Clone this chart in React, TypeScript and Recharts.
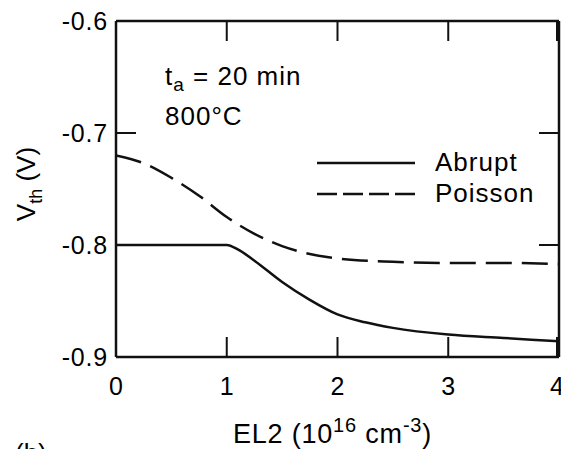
import React from 'react';
import { LineChart, Line, XAxis, YAxis, Legend } from 'recharts';

const FONT = '"Liberation Sans", Arial, Helvetica, sans-serif';

const X_TICKS = [0, 1, 2, 3, 4];
const Y_TICKS = [-0.9, -0.8, -0.7, -0.6];

const EL2_ABRUPT = [0, 0.5, 1.0, 1.1, 1.25, 1.5, 1.75, 2.0, 2.25, 2.5, 3.0, 3.5, 4.0];
const VTH_ABRUPT = [-0.8, -0.8, -0.8, -0.804, -0.814, -0.833, -0.849, -0.862, -0.869, -0.874, -0.88, -0.883, -0.886];

const EL2_POISSON = [0, 0.25, 0.5, 0.75, 1.0, 1.25, 1.5, 1.75, 2.0, 2.5, 3.0, 3.5, 4.0];
const VTH_POISSON = [-0.72, -0.727, -0.74, -0.756, -0.775, -0.79, -0.801, -0.808, -0.812, -0.815, -0.816, -0.816, -0.817];

const abruptData = EL2_ABRUPT.map((x, i) => ({ x, v: VTH_ABRUPT[i] }));
const poissonData = EL2_POISSON.map((x, i) => ({ x, v: VTH_POISSON[i] }));

const SERIES = [
  { name: 'Abrupt', data: abruptData, dash: undefined, legendDash: undefined },
  { name: 'Poisson', data: poissonData, dash: '26 10', legendDash: '20 6' },
];

const TICK_LEN = 20;
const STROKE = '#111';

const BottomTick = (props: any) => {
  const { x, y, payload } = props;
  return (
    <g>
      <line x1={x} y1={y} x2={x} y2={y - TICK_LEN} stroke={STROKE} strokeWidth={2} />
      <text x={x} y={y + 38} textAnchor="middle" fontFamily={FONT} fontSize={25} fill="#000">
        {payload.value}
      </text>
    </g>
  );
};

const TopTick = (props: any) => {
  const { x, y } = props;
  return <line x1={x} y1={y} x2={x} y2={y + TICK_LEN} stroke={STROKE} strokeWidth={2} />;
};

const LeftTick = (props: any) => {
  const { x, y, payload } = props;
  return (
    <g>
      <line x1={x} y1={y} x2={x + TICK_LEN} y2={y} stroke={STROKE} strokeWidth={2} />
      <text x={x - 8} y={y + 9} textAnchor="end" fontFamily={FONT} fontSize={25} letterSpacing={0.8} fill="#000">
        {Number(payload.value).toFixed(1)}
      </text>
    </g>
  );
};

const RightTick = (props: any) => {
  const { x, y } = props;
  return <line x1={x} y1={y} x2={x - TICK_LEN} y2={y} stroke={STROKE} strokeWidth={2} />;
};

const YLabel = (props: any) => {
  const vb = props.viewBox || { x: 0, y: 21, width: 116, height: 336 };
  const cx = vb.x + 35;
  const cy = vb.y + vb.height / 2 - 5;
  return (
    <text
      x={cx}
      y={cy}
      transform={`rotate(-90, ${cx}, ${cy})`}
      textAnchor="middle"
      fontFamily={FONT}
      fontSize={26}
      fill="#000"
    >
      V
      <tspan dy={7} fontSize={18}>th</tspan>
      <tspan dy={-7}> (V)</tspan>
    </text>
  );
};

const XLabel = (props: any) => {
  const vb = props.viewBox || { x: 116, y: 357, width: 443, height: 92 };
  const cx = vb.x + vb.width / 2 - 5;
  const by = vb.y + 86;
  return (
    <g>
      <text x={cx} y={by} textAnchor="middle" fontFamily={FONT} fontSize={27} letterSpacing={0.8} fill="#000">
        EL2 (10
        <tspan dy={-11} fontSize={20}>16</tspan>
        <tspan dy={11}> cm</tspan>
        <tspan dy={-11} fontSize={20}>-3</tspan>
        <tspan dy={11}>)</tspan>
      </text>
      <text x={15} y={vb.y + 105} fontFamily={FONT} fontSize={26} fill="#000">(b)</text>
    </g>
  );
};

const renderLegend = () => (
  <div style={{ fontFamily: FONT, fontSize: 26, color: '#000' }}>
    {SERIES.map((s) => (
      <div key={s.name} style={{ display: 'flex', alignItems: 'center', height: 31 }}>
        <svg width={98} height={6} style={{ display: 'block' }}>
          <line x1={0} y1={3} x2={98} y2={3} stroke={STROKE} strokeWidth={2.5} strokeDasharray={s.legendDash} />
        </svg>
        <span style={{ marginLeft: 20, letterSpacing: 1 }}>{s.name}</span>
      </div>
    ))}
  </div>
);

export default function App() {
  return (
    <div style={{ position: 'absolute', left: 0, top: 0, width: 561, height: 449, background: '#fff', overflow: 'hidden' }}>
      <LineChart width={561} height={449} margin={{ top: 20, right: 1, bottom: 0, left: 0 }}>
        <XAxis
          xAxisId="bottom"
          dataKey="x"
          type="number"
          domain={[0, 4]}
          ticks={X_TICKS}
          height={92}
          tickSize={0}
          tickMargin={0}
          tick={<BottomTick />}
          axisLine={{ stroke: STROKE, strokeWidth: 2.5 }}
          allowDataOverflow
          label={<XLabel />}
        />
        <XAxis
          xAxisId="top"
          orientation="top"
          dataKey="x"
          type="number"
          domain={[0, 4]}
          ticks={X_TICKS}
          height={1}
          tickSize={0}
          tickMargin={0}
          tick={<TopTick />}
          axisLine={{ stroke: STROKE, strokeWidth: 2.5 }}
          allowDataOverflow
        />
        <YAxis
          yAxisId="left"
          type="number"
          domain={[-0.9, -0.6]}
          ticks={Y_TICKS}
          width={116}
          tickSize={0}
          tickMargin={0}
          tick={<LeftTick />}
          axisLine={{ stroke: STROKE, strokeWidth: 2.5 }}
          allowDataOverflow
          label={<YLabel />}
        />
        <YAxis
          yAxisId="right"
          orientation="right"
          type="number"
          domain={[-0.9, -0.6]}
          ticks={Y_TICKS}
          width={1}
          tickSize={0}
          tickMargin={0}
          tick={<RightTick />}
          axisLine={{ stroke: STROKE, strokeWidth: 2.5 }}
          allowDataOverflow
        />
        <Legend
          layout="vertical"
          align="center"
          verticalAlign="middle"
          content={renderLegend}
          wrapperStyle={{ position: 'absolute', left: 317, top: 147, width: 240, height: 62 }}
        />
        {SERIES.map((s) => (
          <Line
            key={s.name}
            name={s.name}
            data={s.data}
            dataKey="v"
            xAxisId="bottom"
            yAxisId="left"
            type="monotone"
            stroke={STROKE}
            strokeWidth={2.5}
            strokeDasharray={s.dash}
            dot={false}
            activeDot={false}
            isAnimationActive={false}
          />
        ))}
        <Line
          key="frame"
          name="frame"
          data={poissonData}
          dataKey="v"
          xAxisId="top"
          yAxisId="right"
          stroke="none"
          strokeWidth={0}
          dot={false}
          activeDot={false}
          legendType="none"
          isAnimationActive={false}
        />
      </LineChart>
      <svg width={561} height={449} style={{ position: 'absolute', left: 0, top: 0, pointerEvents: 'none' }}>
        <text x={165} y={85} fontFamily={FONT} fontSize={26} letterSpacing={1} fill="#000">
          t<tspan dy={6} fontSize={19}>a</tspan>
          <tspan dy={-6}> = 20 min</tspan>
        </text>
        <text x={165} y={125} fontFamily={FONT} fontSize={26} letterSpacing={1} fill="#000">800°C</text>
      </svg>
    </div>
  );
}
